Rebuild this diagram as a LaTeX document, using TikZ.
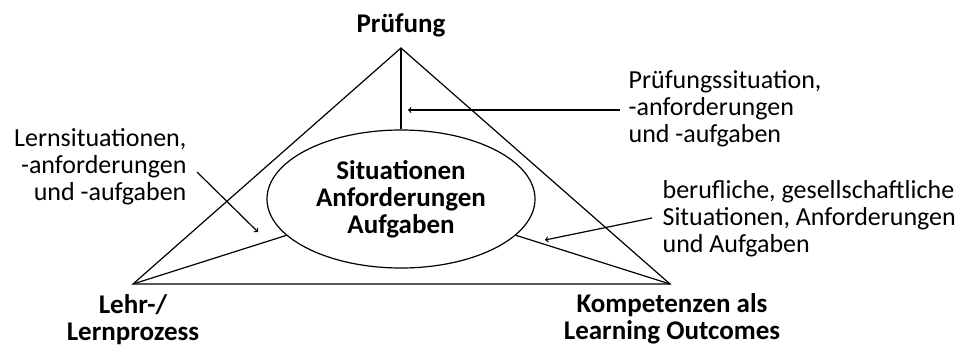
\documentclass[tikz,border=0pt]{standalone}
\usepackage{fontspec}
\setmainfont{Carlito}
\usepackage{tikz}
\usetikzlibrary{shapes,arrows}

\tikzset{
  txt/.style={inner sep=0pt, font=\fontsize{26}{27}\selectfont},
  bold/.style={inner sep=0pt, align=center, font=\fontsize{27}{27}\selectfont\bfseries}
}

\begin{document}
\begin{tikzpicture}[x=1pt, y=-1pt, line width=1.2pt]
     \fill [white] (0,0) rectangle (970,346);
     % corners of the triangle
     \coordinate (P) at (401,48);
     \coordinate (L) at (133,284);
     \coordinate (K) at (670,284);
     \draw (P) -- (L) -- (K) -- cycle;
     \node [draw, ellipse, minimum width=268pt, minimum height=138pt, bold] (ell) at (401,199)
          {Situationen\\Anforderungen\\Aufgaben};
     \draw (P) -- (ell);
     \draw (L) -- (ell);
     \draw (K) -- (ell);
     % corner labels (base = last line)
     \node [bold, anchor=base] (pruefung) at (401,32) {Pr\"ufung};
     \node [bold, anchor=base] (lehr) at (133,340) {Lehr-/\\Lernprozess};
     \node [bold, anchor=base] (komp) at (672,339) {Kompetenzen als\\Learning Outcomes};
     % side texts
     \node [txt, align=left, anchor=base west] (ptext) at (628,142) {Pr\"ufungssituation,\\-anforderungen\\und -aufgaben};
     \node [txt, align=right, anchor=base east] (ltext) at (187,200) {Lernsituationen,\\-anforderungen\\und -aufgaben};
     \node [txt, align=left, anchor=base west] (btext) at (662,252) {berufliche, gesellschaftliche\\Situationen, Anforderungen\\und Aufgaben};
     % arrows
     \coordinate (pa) at (620,110);
     \coordinate (pb) at (408,110);
     \coordinate (la) at (197,172);
     \coordinate (lb) at (258,232);
     \coordinate (ba) at (652,218);
     \coordinate (bb) at (545,240);
     \draw [->] (pa) -- (pb);
     \draw [->] (la) -- (lb);
     \draw [->] (ba) -- (bb);
 \end{tikzpicture}
\end{document}
